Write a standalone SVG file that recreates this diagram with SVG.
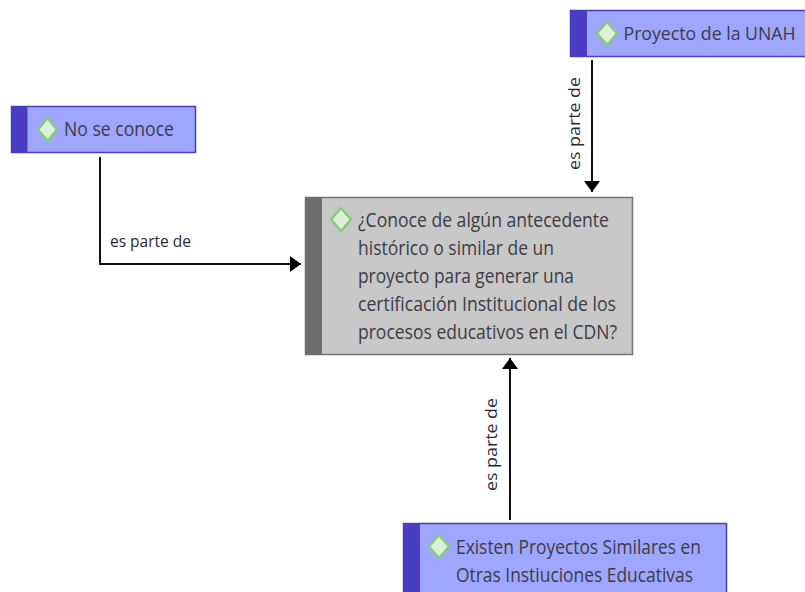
<svg xmlns="http://www.w3.org/2000/svg" width="805" height="592" viewBox="0 0 805 592">
<style>
.blue{fill:#9ea6ff;stroke:#4a3dc4;stroke-width:1.5}
.blueband{fill:#4a3dc4}
.gray{fill:#c8c8c8;stroke:#767676;stroke-width:1.5}
.grayband{fill:#6e6e6e}
.dia{fill:#dff0d8;stroke:#86cc78;stroke-width:2.5;stroke-linejoin:round}
.t{font-family:"Open Sans","Noto Sans",sans-serif;font-size:20px;fill:#3c3c44}
.l{font-family:"Open Sans","Noto Sans",sans-serif;font-size:17px;fill:#2a2a3a}
.r{font-family:"Open Sans","Noto Sans",sans-serif;font-size:16px;fill:#2a2a3a}
.c{fill:none;stroke:#111;stroke-width:2}
</style>
<defs>
<marker id="arrow" markerUnits="userSpaceOnUse" markerWidth="12" markerHeight="16" refX="11" refY="8" orient="auto"><path d="M0 0L11 8L0 16Z" fill="#000"/></marker>
</defs>
<g id="connectors">
<path class="c" d="M100 157V264H301" marker-end="url(#arrow)"/>
<path class="c" d="M592 60V192" marker-end="url(#arrow)"/>
<path class="c" d="M510 520V358" marker-end="url(#arrow)"/>
<text class="l" x="110" y="247" textLength="81" lengthAdjust="spacingAndGlyphs">es parte de</text>
<text class="r" transform="translate(580 170) rotate(-90)" textLength="93" lengthAdjust="spacingAndGlyphs">es parte de</text>
<text class="r" transform="translate(497 491) rotate(-90)" textLength="93" lengthAdjust="spacingAndGlyphs">es parte de</text>
</g>
<g id="node-no-se-conoce">
<rect class="blue" x="11.500" y="106.500" width="184" height="46"/>
<rect class="blueband" x="11" y="106" width="16.500" height="47"/>
<path class="dia" d="M47.500 118L57 129.500L47.500 141L38 129.500Z"/>
<text class="t" x="64" y="136" textLength="110" lengthAdjust="spacingAndGlyphs">No se conoce</text>
</g>
<g id="node-proyecto-unah">
<rect class="blue" x="570.500" y="10.500" width="240" height="46"/>
<rect class="blueband" x="570" y="10" width="17" height="47"/>
<path class="dia" d="M607 22L617 33.500L607 45L597 33.500Z"/>
<text class="t" style="font-size:18.500px" x="623.500" y="40" textLength="172" lengthAdjust="spacingAndGlyphs">Proyecto de la UNAH</text>
</g>
<g id="node-pregunta">
<rect class="gray" x="305.500" y="197.500" width="327" height="157"/>
<rect class="grayband" x="305" y="197" width="17" height="158"/>
<path class="dia" d="M341 208L351 219.500L341 231L331 219.500Z"/>
<text class="t" x="358" y="226.500" textLength="251" lengthAdjust="spacingAndGlyphs">¿Conoce de algún antecedente</text>
<text class="t" x="358" y="254.500" textLength="196" lengthAdjust="spacingAndGlyphs">histórico o similar de un</text>
<text class="t" x="358" y="282.500" textLength="216" lengthAdjust="spacingAndGlyphs">proyecto para generar una</text>
<text class="t" x="358" y="310.500" textLength="258" lengthAdjust="spacingAndGlyphs">certificación Institucional de los</text>
<text class="t" x="358" y="338.500" textLength="259" lengthAdjust="spacingAndGlyphs">procesos educativos en el CDN?</text>
</g>
<g id="node-existen">
<rect class="blue" x="403.500" y="523.500" width="323" height="80"/>
<rect class="blueband" x="403" y="523" width="17" height="69"/>
<path class="dia" d="M439 535L449 546.500L439 558L429 546.500Z"/>
<text class="t" x="456" y="553.500" textLength="245" lengthAdjust="spacingAndGlyphs">Existen Proyectos Similares en</text>
<text class="t" x="456" y="581.500" textLength="237" lengthAdjust="spacingAndGlyphs">Otras Instiuciones Educativas</text>
</g>
</svg>
